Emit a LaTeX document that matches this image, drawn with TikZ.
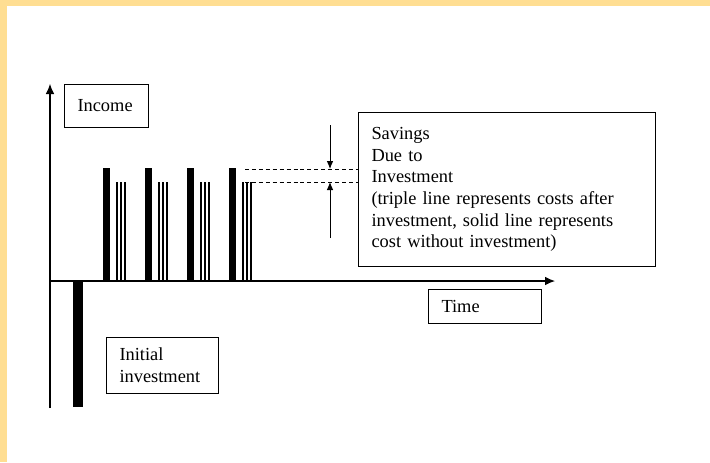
\documentclass[tikz,border=0pt]{standalone}
\usepackage{fontspec}
\setmainfont{Liberation Serif}
\usetikzlibrary{arrows.meta}
\definecolor{framey}{RGB}{255,222,146}
\begin{document}
\begin{tikzpicture}[>={Latex[length=7.5pt,width=6.5pt]}, x=0.75pt, y=-0.75pt,
    txtbox/.style={draw, line width=0.75pt, anchor=north west, align=left,
        inner xsep=9.75pt, font=\fontsize{13.8}{16.3}\selectfont},
    axis/.style={->, line width=0.8pt},
    gap/.style={dashed, dash pattern=on 3pt off 2.2pt, line width=0.7pt},
    pin/.style={-{Latex[length=6pt,width=5pt]}, line width=0.7pt}]
\useasboundingbox (0,0) rectangle (710,462);
\fill[framey] (0,0) rectangle (710,6);
\fill[framey] (0,0) rectangle (7,462);

\coordinate (O) at (50,281);
\coordinate (ytop) at (50,84);
\coordinate (ybot) at (50,408);
\coordinate (xend) at (555,281);
\draw[axis] (ybot)--(ytop);
\draw[axis] (O)--(xend);

\node[txtbox, text width=43.5pt, minimum height=32.25pt] (income) at (64,84) {Income};
\node[txtbox, text width=65.25pt, minimum height=25.5pt] (time) at (428,289) {Time};
\node[txtbox, text width=64.5pt, minimum height=42pt] (init) at (106,337) {Initial\\investment};
\node[txtbox, text width=203.25pt, minimum height=115.5pt] (sav) at (358,112)
    {Savings\\Due to\\Investment\\(triple line represents costs after\\investment, solid line represents\\cost without investment)};

% initial investment
\fill (73,281) rectangle (83,407);

\foreach \g in {0,1,2,3}
{
    \fill (103+42*\g,168) rectangle (110+42*\g,281);
    \foreach \d in {0,4,8}
        \draw[line width=1.3pt] (117+42*\g+\d,182)--(117+42*\g+\d,281);
}

\coordinate (d1) at (245,169);
\coordinate (d2) at (245,182);
\draw[gap] (d1)--(d1 -| sav.west);
\draw[gap] (d2)--(d2 -| sav.west);

\coordinate (a1) at (330,125);
\coordinate (a2) at (330,238);
\draw[pin] (a1)--(a1 |- d1);
\draw[pin] (a2)--(a2 |- d2);

\end{tikzpicture}
\end{document}
